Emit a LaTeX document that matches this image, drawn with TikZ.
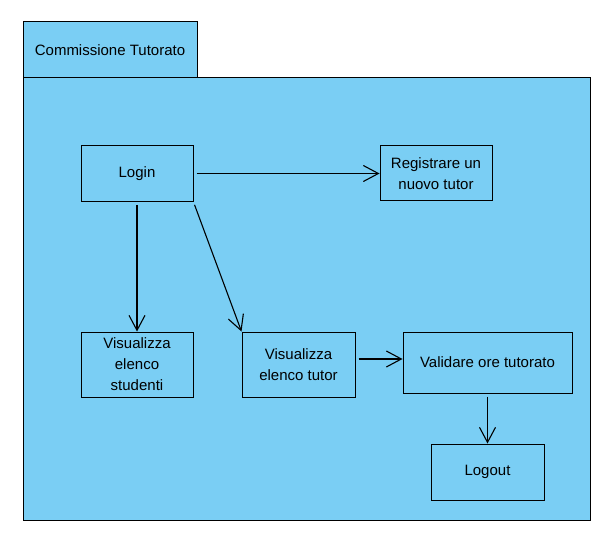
\documentclass[tikz,border=0pt]{standalone}
\usepackage{fontspec}
\setmainfont{Liberation Sans}
\usetikzlibrary{positioning,arrows.meta}
\definecolor{pkgblue}{RGB}{122,206,244}

\begin{document}
\begin{tikzpicture}[
	x=1pt, y=-1pt,
	package/.style={
		shape=rectangle,
		draw,
		fill=pkgblue,
		line width=1pt,
	},
	usecase/.style={
		shape=rectangle,
		draw,
		line width=1pt,
		minimum width=112pt,
		minimum height=56pt,
		align=center,
		inner sep=0pt,
	},
	>={Straight Barb[length=15pt,width=16pt]},
	->,
	line width=1.1pt,
	font=\fontsize{15pt}{21pt}\selectfont,
]
\useasboundingbox (0,0) rectangle (616,548);

% package frame
\node (tab) [package, minimum width=174pt, minimum height=56pt] at (110,50) {Commissione Tutorato};
\node (frame) [package, minimum width=567pt, minimum height=442pt] at (306.5,299) {};

\node (login) [usecase] at (137,173.5) {Login};
\node (registra) [usecase, minimum height=55pt] at (436,173.5) {Registrare un\\nuovo tutor};
\node (studenti) [usecase, minimum height=65pt] at (137,364.5) {Visualizza\\elenco\\studenti};
\node (tutor) [usecase, minimum width=113pt, minimum height=65pt] at (298.5,364.5) {Visualizza\\elenco tutor};
\node (valida) [usecase, minimum width=169pt, minimum height=61pt] at (487.5,362.5) {Validare ore tutorato};
\node (logout) [usecase, minimum width=113pt] at (487.5,472) {Logout};
\coordinate (tv) at ([yshift=5.5pt]tutor.east);

\draw[shorten <=3pt] (login) -- (registra);
\draw[shorten <=3pt] (login) -- (studenti);
\draw[shorten <=3pt] (login.south east) -- (tutor.north west);
\draw[shorten <=3pt] (tv) -- (tv -| valida.west);
\draw[shorten <=3pt] (valida) -- (logout);
\end{tikzpicture}
\end{document}
